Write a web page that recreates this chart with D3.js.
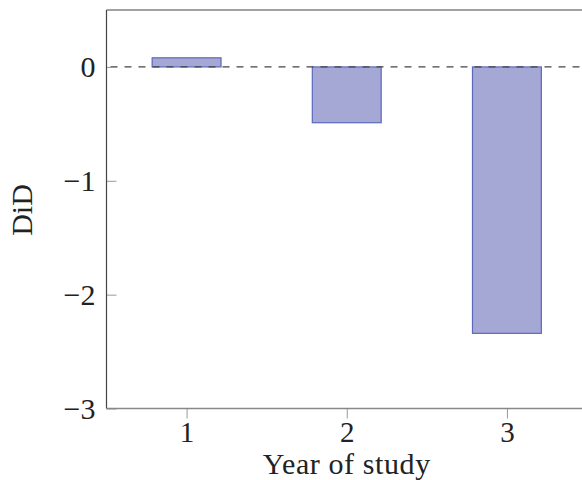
<!DOCTYPE html>
<html><head><meta charset="utf-8">
<script src="https://cdn.jsdelivr.net/npm/d3@7"></script>
<style>html,body{margin:0;padding:0;background:#fff;}svg{display:block;}</style>
</head><body>
<svg id="c" width="582" height="480"></svg>
<script>
const categories = [1, 2, 3];
const values = [0.08, -0.49, -2.34];
const yTicks = [0, -1, -2, -3];
const xLabel = "Year of study";
const yLabel = "DiD";

const svg = d3.select("#c");
const font = "'Liberation Serif', 'DejaVu Serif', serif";
const x = d3.scaleLinear().domain([0.5, 3.5]).range([106.5, 587]);
const y = d3.scaleLinear().domain([-3, 0.5]).range([408.5, 10]);
const bw = x(1.215) - x(0.785);

// frame
svg.append("line").attr("x1", x(0.5)).attr("x2", 582).attr("y1", y(0.5)).attr("y2", y(0.5)).attr("stroke", "#444").attr("stroke-width", 1.2);

// bars
svg.selectAll("rect.bar").data(categories).enter().append("rect")
  .attr("x", (d) => x(d) - bw / 2)
  .attr("width", bw)
  .attr("y", (d, i) => y(Math.max(0, values[i])))
  .attr("height", (d, i) => Math.abs(y(values[i]) - y(0)))
  .attr("fill", "#a5a7d4")
  .attr("stroke", "#5a68c0")
  .attr("stroke-width", 1.2);

// zero dashed line
svg.append("line").attr("x1", x(0.5)).attr("x2", 582).attr("y1", y(0)).attr("y2", y(0))
  .attr("stroke", "#444").attr("stroke-width", 1.2).attr("stroke-dasharray", "7,7").attr("stroke-dashoffset", -4);

// y axis
const yAxis = d3.axisLeft(y).tickValues(yTicks).tickSize(-10).tickPadding(11)
  .tickFormat((d) => d3.format("d")(d).replace("-", "\u2212"));
const gy = svg.append("g").attr("transform", `translate(${x(0.5)},0)`).call(yAxis);
gy.select(".domain").remove();
gy.selectAll(".tick line").attr("stroke", "#999");
gy.selectAll(".tick text").attr("font-family", font).attr("font-size", 30).attr("fill", "#222");
svg.append("line").attr("x1", x(0.5)).attr("x2", x(0.5)).attr("y1", y(0.5)).attr("y2", y(-3)).attr("stroke", "#444").attr("stroke-width", 1.2);

// x axis
const xAxis = d3.axisBottom(x).tickValues(categories).tickSize(10).tickPadding(3).tickFormat(d3.format("d"));
const gx = svg.append("g").attr("transform", `translate(0,${y(-3)})`).call(xAxis);
gx.select(".domain").remove();
gx.selectAll(".tick line").attr("stroke", "#999");
gx.selectAll(".tick text").attr("font-family", font).attr("font-size", 29).attr("fill", "#222");
svg.append("line").attr("x1", x(0.5)).attr("x2", 582).attr("y1", y(-3)).attr("y2", y(-3)).attr("stroke", "#888").attr("stroke-width", 1.5);

// labels
svg.append("text").attr("x", x(2)).attr("y", 474).attr("text-anchor", "middle")
  .attr("font-family", font).attr("font-size", 30).attr("letter-spacing", 0.6).attr("fill", "#222").text(xLabel);
svg.append("text").attr("transform", "translate(32,210) rotate(-90)").attr("text-anchor", "middle")
  .attr("font-family", font).attr("font-size", 30).attr("fill", "#222").text(yLabel);
</script>
</body></html>
